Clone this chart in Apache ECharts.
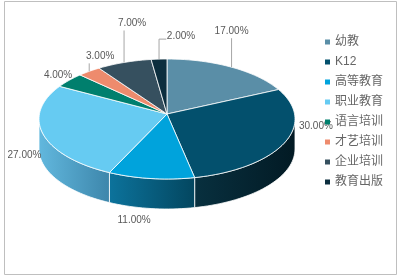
<!DOCTYPE html>
<html>
<head>
<meta charset="utf-8">
<script src="https://cdn.jsdelivr.net/npm/echarts@6/dist/echarts.min.js"></script>
<style>
  html, body { margin: 0; padding: 0; background: #fff; }
  #main { width: 400px; height: 278px; }
</style>
</head>
<body>
<div id="main"></div>
<script>
var names = ['幼教', 'K12', '高等教育', '职业教育', '语言培训', '才艺培训', '企业培训', '教育出版'];
var shares = [17, 30, 11, 27, 4, 3, 7, 2];
var labels = ['17.00%', '30.00%', '11.00%', '27.00%', '4.00%', '3.00%', '7.00%', '2.00%'];

var topColors = ['#5a8ea7', '#03506d', '#00a3dc', '#66cbf2', '#007f6d', '#ee8b6d', '#36505f', '#0c2e3e'];
var sideColors = [
    ['#4a7890', '#3a6478'], ['#08303f', '#021a24'], ['#0c739c', '#03465f'], ['#62b8de', '#3d86ab'],
    ['#006a5a', '#005548'], ['#d0735a', '#b86048'], ['#2a414e', '#1e323d'], ['#08222e', '#051820']
];
// where each label sits relative to the outer edge of its slice
var labelShift = [[0, -36], [32, -17], [-17, 42], [-19, 21], [-11, -5], [11, -15], [8, -39], [22, -23]];

// projected pie geometry (apex sits a little above the ellipse centre, like the tilted original)
var cx = 167, cy = 119, rx = 128, ry = 60, depth = 30, apexY = 114;
var total = shares.reduce(function (a, b) { return a + b; }, 0);
var starts = [];
var acc = 0;
shares.forEach(function (v) { starts.push(acc); acc += v; });

function pt(deg, dy) {
    var r = deg * Math.PI / 180;
    return [cx + rx * Math.sin(r), cy - ry * Math.cos(r) + (dy || 0)];
}
function arc(a, b, dy) {
    var n = Math.max(2, Math.ceil((b - a) / 2));
    var pts = [];
    for (var k = 0; k <= n; k++) pts.push(pt(a + (b - a) * k / n, dy));
    return pts;
}

function makeRender(i) {
    return function (params, api) {
        var v = api.value(0);
        var a = starts[i] / total * 360;
        var b = a + v / total * 360;
        var children = [];
        // outer wall, only the front half shows
        var s = Math.max(a, 90), e = Math.min(b, 270);
        if (s < e) {
            var wall = arc(s, e, 0).concat(arc(s, e, depth).reverse());
            children.push({
                type: 'polygon',
                shape: { points: wall },
                style: {
                    fill: new echarts.graphic.LinearGradient(0, 0, 1, 0, [
                        { offset: 0, color: sideColors[i][0] },
                        { offset: 1, color: sideColors[i][1] }
                    ]),
                    stroke: '#ffffff', lineWidth: 0.8
                },
                z2: 1
            });
        }
        children.push({
            type: 'polygon',
            shape: { points: [[cx, apexY]].concat(arc(a, b, 0)) },
            style: { fill: topColors[i], stroke: '#ffffff', lineWidth: 0.8 },
            z2: 2
        });
        // label
        var mid = (a + b) / 2;
        var anchor = pt(mid, 0);
        var lx = anchor[0] + labelShift[i][0];
        var ly = anchor[1] + labelShift[i][1];
        var w = labels[i].length * 5.5;
        if (anchor[1] < cy && labelShift[i][1] < -12) {
            var line;
            if (anchor[0] >= lx - w / 2 && anchor[0] <= lx + w / 2) {
                line = [anchor, [anchor[0], ly + 7]];
            } else {
                line = [anchor, [anchor[0], ly + 3], [lx - w / 2 - 1, ly + 3]];
            }
            children.push({
                type: 'polyline',
                shape: { points: line },
                style: { stroke: '#a6a6a6', lineWidth: 1, fill: null },
                z2: 3
            });
        }
        children.push({
            type: 'text',
            x: lx, y: ly,
            style: {
                text: labels[i],
                fill: '#595959',
                font: '10px "Liberation Sans", Arial, sans-serif',
                align: 'center',
                verticalAlign: 'middle'
            },
            z2: 4
        });
        return { type: 'group', children: children };
    };
}

var series = names.map(function (n, i) {
    return {
        name: n,
        type: 'custom',
        coordinateSystem: 'none',
        itemStyle: { color: topColors[i] },
        data: [[shares[i]]],
        renderItem: makeRender(i),
        silent: true
    };
});

var myChart = echarts.init(document.getElementById('main'));
var option = {
    animation: false,
    backgroundColor: '#ffffff',
    legend: {
        data: names,
        orient: 'vertical',
        left: 320,
        top: 31,
        icon: 'rect',
        itemWidth: 5,
        itemHeight: 5,
        itemGap: 8,
        textStyle: {
            fontSize: 12,
            lineHeight: 12,
            color: '#666666',
            fontFamily: '"Liberation Sans", "Noto Sans CJK SC", sans-serif'
        }
    },
    graphic: [{
        type: 'rect',
        shape: { x: 4.5, y: 1.5, width: 392, height: 273 },
        style: { fill: null, stroke: '#bfbfbf', lineWidth: 1 },
        silent: true,
        z: -1
    }],
    series: series
};
myChart.setOption(option);
</script>
</body>
</html>
